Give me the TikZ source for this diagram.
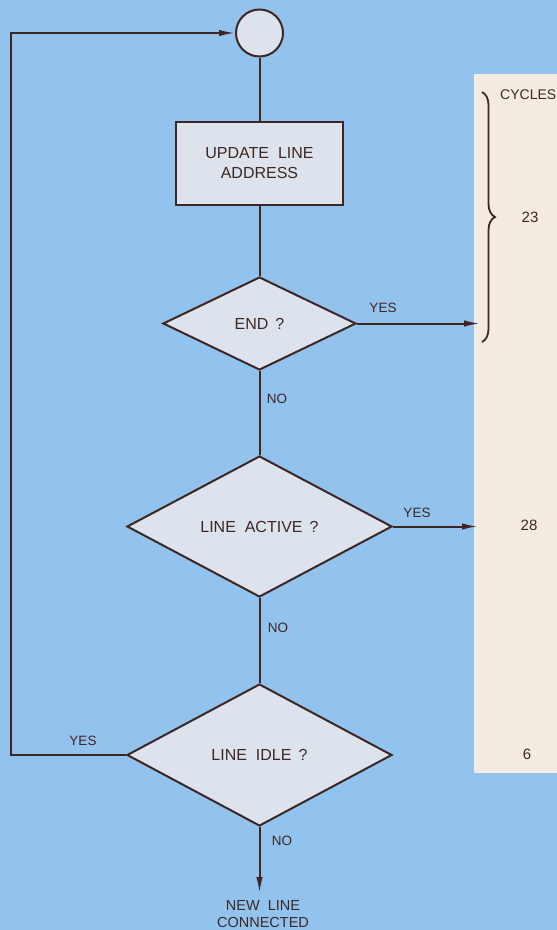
\documentclass[tikz,border=0pt]{standalone}
\usepackage{fontspec}
\setmainfont{Liberation Sans}
\usetikzlibrary{shapes.geometric,arrows.meta,decorations.pathreplacing}
\definecolor{bgblue}{HTML}{92C2EE}
\definecolor{shapefill}{HTML}{DCE3EC}
\definecolor{ink}{HTML}{3E2722}
\definecolor{panel}{HTML}{F4ECE3}
\begin{document}
\begin{tikzpicture}[x=1pt,y=-1pt,
  every node/.style={text=ink, font=\fontsize{16}{20}\selectfont},
  line/.style={draw=ink, line width=2pt},
  arr/.style={line, -{Latex[length=16pt,width=6.5pt]}},
  shapebox/.style={draw=ink, fill=shapefill, line width=2pt, inner sep=0pt, align=center},
  decision/.style={shapebox, diamond},
  lbl/.style={font=\fontsize{13.5}{16}\selectfont},
  num/.style={font=\fontsize{15}{16}\selectfont}
]
\fill[bgblue] (0,0) rectangle (557,930);
\useasboundingbox (0,0) rectangle (557,930);
\fill[panel] (474,74) rectangle (557,773);

\node[shapebox, circle, minimum size=47pt] (start) at (259.5,33) {};
\node[shapebox, rectangle, minimum width=167pt, minimum height=83pt, font=\fontsize{16}{20}\selectfont] (update) at (259.5,163.5) {UPDATE \ LINE\\ADDRESS};
\node[decision, minimum width=193pt, minimum height=93pt] (end) at (259.5,323.5) {END \,?};
\node[decision, minimum width=265pt, minimum height=141pt] (active) at (259.5,526.5) {LINE \ ACTIVE \,?};
\node[decision, minimum width=265pt, minimum height=142pt] (idle) at (259.5,755) {LINE \ IDLE \,?};

\coordinate (endout) at (480,323.5);
\coordinate (actout) at (478,526.5);
\coordinate (newline) at (259.5,893);
\coordinate (loopcorner) at (11,755);

\draw[line] (start) -- (update);
\draw[line] (update) -- (end);
\draw[line] (end) -- (active);
\draw[line] (active) -- (idle);
\draw[arr] (idle) -- (newline);
\draw[arr] (end.east) -- (endout);
\draw[arr] (active.east) -- (actout);
\draw[arr] (idle.west) -- (loopcorner) |- (start.west);

\node[lbl] (yes1) at (383,308) {YES};
\node[lbl] (no1) at (277,399) {NO};
\node[lbl] (yes2) at (417,513) {YES};
\node[lbl] (no2) at (278,628) {NO};
\node[lbl] (yes3) at (83,741) {YES};
\node[lbl] (no3) at (282,841) {NO};
\node[align=center, font=\fontsize{14.5}{17}\selectfont] (newtext) at (263,914) {NEW \ LINE\\CONNECTED};

\draw[draw=ink, line width=1.8pt, decorate, decoration={brace, amplitude=13pt}] (482,92) -- (482,342);
\node[num, anchor=west, inner sep=0pt, font=\fontsize{14}{16}\selectfont] (cycles) at (500,95) {CYCLES};
\node[num] (c23) at (530,217) {23};
\node[num] (c28) at (529,525) {28};
\node[num] (c6) at (527,754) {6};
\end{tikzpicture}
\end{document}
